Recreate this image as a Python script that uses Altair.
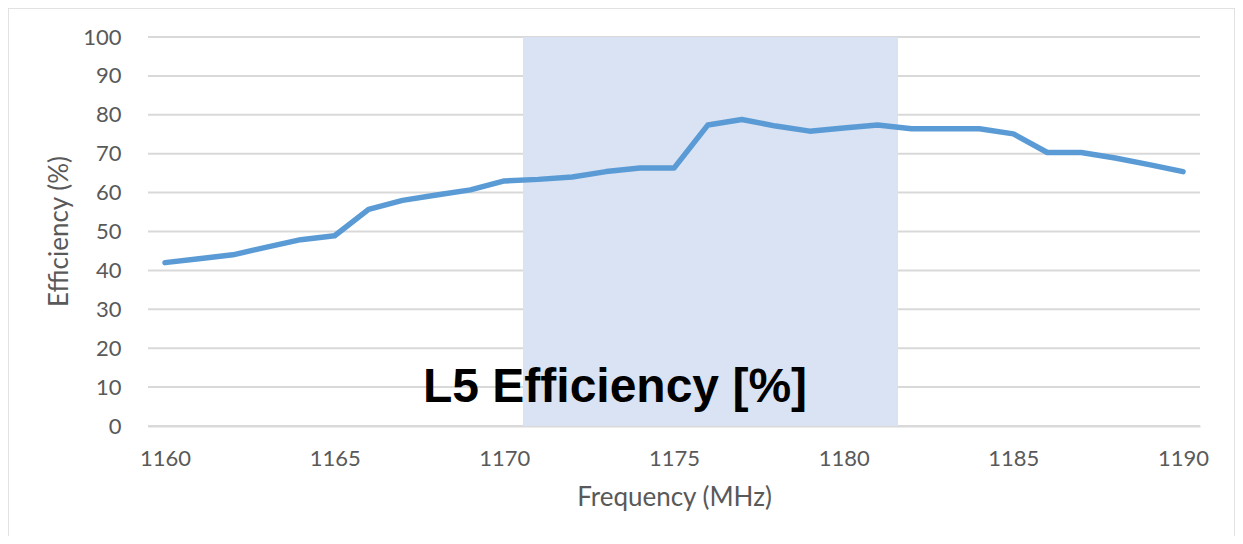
import altair as alt
import pandas as pd

freq = list(range(1160, 1191))
efficiency = [42.0, 43.0, 44.0, 46.0, 47.9, 48.9, 55.7, 58.0, 59.4, 60.7,
              63.0, 63.4, 64.0, 65.4, 66.3, 66.3, 77.4, 78.8, 77.1, 75.8,
              76.6, 77.4, 76.4, 76.4, 76.4, 75.1, 70.3, 70.3, 68.9, 67.2, 65.4]
band_start = [1170.55]
band_end = [1181.6]
x_ticks = [1160, 1165, 1170, 1175, 1180, 1185, 1190]
y_ticks = [0, 10, 20, 30, 40, 50, 60, 70, 80, 90, 100]

df = pd.DataFrame({"freq": freq, "eff": efficiency})
band = pd.DataFrame({"start": band_start, "end": band_end, "lo": [0], "hi": [100]})

FONT = "Lato"
GRAY = "#595959"

xscale = alt.Scale(domain=[1159.5, 1190.5], nice=False, zero=False)
yscale = alt.Scale(domain=[0, 100], nice=False)

xaxis = alt.Axis(values=x_ticks, format="d", title="Frequency (MHz)", grid=False,
                 ticks=False, domain=True, domainColor="#D9D9D9", domainWidth=2,
                 labelPadding=22, titlePadding=15, labelOverlap=False,
                 labelFontSize=22, titleFontSize=26)
yaxis = alt.Axis(values=y_ticks, title="Efficiency (%)", grid=False, ticks=False, domain=False,
                 labelPadding=27, labelOverlap=False, labelFontSize=22, titleFontSize=26,
                 titleX=-89, titleY=194, titleAngle=270, titleAlign="center",
                 titleBaseline="middle")

border = alt.Chart(band).mark_rect(fill=None, stroke="#D9D9D9", strokeWidth=1.5, clip=False).encode(
    x=alt.value(-140), x2=alt.value(1087), y=alt.value(-29), y2=alt.value(560)
)

grid = alt.Chart(pd.DataFrame({"v": y_ticks})).mark_rule(color="#D9D9D9", strokeWidth=2).encode(
    y=alt.Y("v:Q", scale=yscale, axis=yaxis)
)

shade = alt.Chart(band).mark_rect(color="#DAE3F3").encode(
    x=alt.X("start:Q", scale=xscale, axis=xaxis),
    x2="end:Q",
    y=alt.Y("lo:Q", scale=yscale, axis=yaxis),
    y2="hi:Q",
)

line = alt.Chart(df).mark_line(color="#5B9BD5", strokeWidth=5.5, strokeJoin="round",
                               strokeCap="round").encode(
    x=alt.X("freq:Q", scale=xscale, axis=xaxis),
    y=alt.Y("eff:Q", scale=yscale, axis=yaxis),
)

label = alt.Chart(band).mark_text(text="L5 Efficiency [%]", font="Liberation Sans", fontWeight="bold",
                                  fontSize=48, color="#000000", align="center", baseline="middle").encode(
    x=alt.value(467), y=alt.value(351)
)

chart = alt.layer(border, grid, shade, line, label).properties(
    width=1052, height=389,
    autosize=alt.AutoSizeParams(type="none"),
    padding={"left": 140, "top": 29, "right": 35, "bottom": 110},
).configure_view(stroke=None).configure_axis(
    labelFont=FONT, titleFont=FONT, labelColor=GRAY, titleColor=GRAY,
    titleFontWeight="normal",
)

chart.save("out.html", embed_options={"renderer": "svg", "actions": False})
